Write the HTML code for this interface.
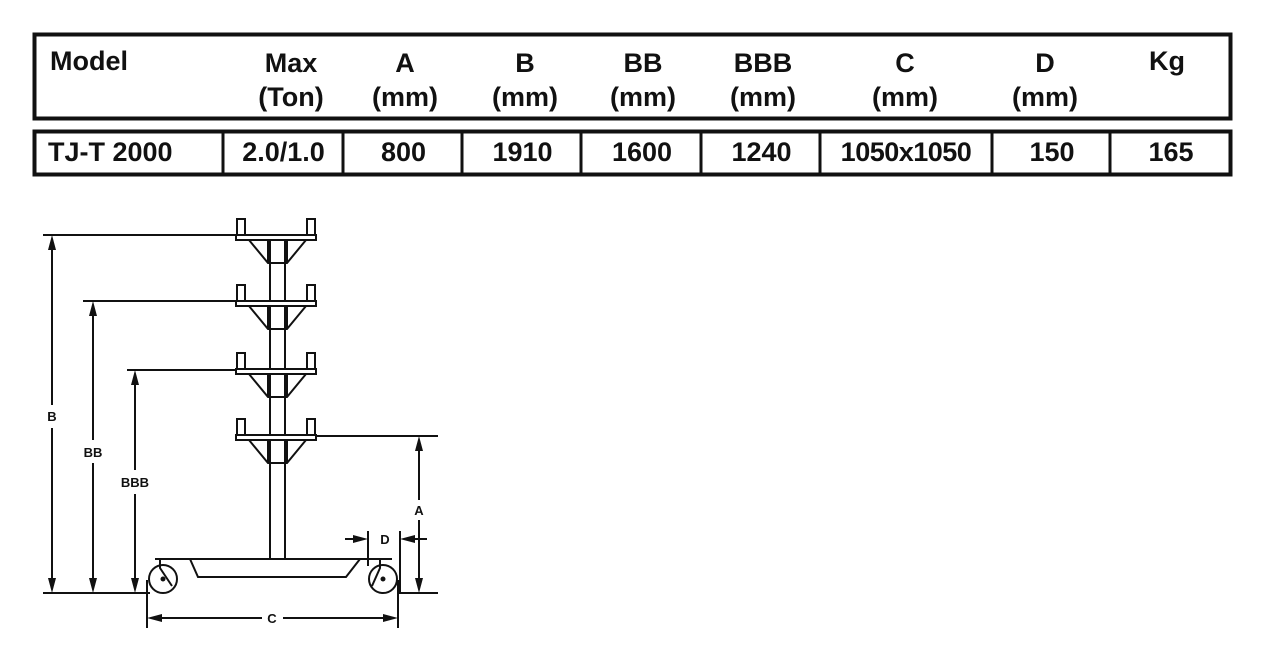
<!DOCTYPE html>
<html><head><style>
body{margin:0;width:1268px;height:664px;background:#fff;overflow:hidden;font-family:"Liberation Sans",sans-serif}
.t{position:absolute;font-weight:bold;color:#111;font-size:27px;text-align:center}
</style></head><body>
<svg width="1268" height="664" style="position:absolute;left:0;top:0">
<g fill="none" stroke="#111">
<rect x="34.5" y="34.5" width="1196" height="84" stroke-width="4"/>
<rect x="34.5" y="131.5" width="1196" height="43" stroke-width="4"/>
<g stroke-width="3">
<line x1="223" y1="132" x2="223" y2="174"/><line x1="343" y1="132" x2="343" y2="174"/>
<line x1="462" y1="132" x2="462" y2="174"/><line x1="581" y1="132" x2="581" y2="174"/>
<line x1="701" y1="132" x2="701" y2="174"/><line x1="820" y1="132" x2="820" y2="174"/>
<line x1="992" y1="132" x2="992" y2="174"/><line x1="1110" y1="132" x2="1110" y2="174"/>
</g>
<g stroke-width="2">
<line x1="270" y1="240" x2="270" y2="559"/><line x1="285" y1="240" x2="285" y2="559"/>
</g>
</g>
<g fill="#fff" stroke="#111" stroke-width="2">
<g id="p">
<rect x="236" y="235" width="80" height="5"/>
<rect x="237" y="219" width="8" height="16"/><rect x="307" y="219" width="8" height="16"/>
<polyline points="249,240 268,263 287,263 306,240" fill="none"/>
<line x1="268" y1="263" x2="268" y2="240"/><line x1="287" y1="263" x2="287" y2="240"/>
</g>
<use href="#p" transform="translate(0,66)"/>
<use href="#p" transform="translate(0,134)"/>
<use href="#p" transform="translate(0,200)"/>
<polyline points="155,559 190,559 198,577 346,577 360,559 392,559" fill="none"/>
<line x1="190" y1="559" x2="360" y2="559"/>
<circle cx="163" cy="579" r="14"/><circle cx="383" cy="579" r="14"/>
<circle cx="163" cy="579" r="1.5" fill="#111"/><circle cx="383" cy="579" r="1.5" fill="#111"/>
<polyline points="160,559 160,568 172,586" fill="none"/><polyline points="380,559 380,568 372,586" fill="none"/>
</g>
<g stroke="#111" stroke-width="2" fill="none">
<line x1="43" y1="235" x2="236" y2="235"/>
<line x1="83" y1="301" x2="236" y2="301"/>
<line x1="127" y1="370" x2="236" y2="370"/>
<line x1="316" y1="436" x2="438" y2="436"/>
<line x1="43" y1="593" x2="150" y2="593"/><line x1="397" y1="593" x2="438" y2="593"/>
<line x1="52" y1="245" x2="52" y2="405"/><line x1="52" y1="428" x2="52" y2="583"/>
<line x1="93" y1="311" x2="93" y2="440"/><line x1="93" y1="463" x2="93" y2="583"/>
<line x1="135" y1="380" x2="135" y2="470"/><line x1="135" y1="494" x2="135" y2="583"/>
<line x1="419" y1="446" x2="419" y2="500"/><line x1="419" y1="520" x2="419" y2="583"/>
<line x1="368" y1="531" x2="368" y2="566"/><line x1="400" y1="531" x2="400" y2="593"/>
<line x1="345" y1="539" x2="360" y2="539"/><line x1="408" y1="539" x2="427" y2="539"/>
<line x1="147" y1="580" x2="147" y2="628"/><line x1="398" y1="580" x2="398" y2="628"/>
<line x1="157" y1="618" x2="262" y2="618"/><line x1="283" y1="618" x2="388" y2="618"/>
</g>
<g fill="#111">
<polygon points="52,235 48,250 56,250"/><polygon points="52,593 48,578 56,578"/>
<polygon points="93,301 89,316 97,316"/><polygon points="93,593 89,578 97,578"/>
<polygon points="135,370 131,385 139,385"/><polygon points="135,593 131,578 139,578"/>
<polygon points="419,436 415,451 423,451"/><polygon points="419,593 415,578 423,578"/>
<polygon points="368,539 353,535 353,543"/><polygon points="400,539 415,535 415,543"/>
<polygon points="147,618 162,614 162,622"/><polygon points="398,618 383,614 383,622"/>
</g>
<g font-family="Liberation Sans" font-weight="bold" font-size="13" fill="#111" text-anchor="middle">
<text x="52" y="421">B</text><text x="93" y="457">BB</text><text x="135" y="487">BBB</text>
<text x="419" y="515">A</text><text x="385" y="544">D</text><text x="272" y="623">C</text>
</g>
</svg>
<div class="t" style="left:50px;top:46px;text-align:left">Model</div>
<div class="t" style="left:236px;top:46px;width:110px;line-height:34px">Max<br>(Ton)</div>
<div class="t" style="left:350px;top:46px;width:110px;line-height:34px">A<br>(mm)</div>
<div class="t" style="left:470px;top:46px;width:110px;line-height:34px">B<br>(mm)</div>
<div class="t" style="left:588px;top:46px;width:110px;line-height:34px">BB<br>(mm)</div>
<div class="t" style="left:708px;top:46px;width:110px;line-height:34px">BBB<br>(mm)</div>
<div class="t" style="left:850px;top:46px;width:110px;line-height:34px">C<br>(mm)</div>
<div class="t" style="left:990px;top:46px;width:110px;line-height:34px">D<br>(mm)</div>
<div class="t" style="left:1112px;top:46px;width:110px">Kg</div>
<div class="t" style="left:48px;top:137px;text-align:left">TJ-T 2000</div>
<div class="t" style="left:226px;top:137px;width:115px">2.0/1.0</div>
<div class="t" style="left:345px;top:137px;width:117px">800</div>
<div class="t" style="left:464px;top:137px;width:117px">1910</div>
<div class="t" style="left:583px;top:137px;width:118px">1600</div>
<div class="t" style="left:703px;top:137px;width:117px">1240</div>
<div class="t" style="left:820px;top:137px;width:172px;letter-spacing:-0.5px">1050x1050</div>
<div class="t" style="left:994px;top:137px;width:116px">150</div>
<div class="t" style="left:1112px;top:137px;width:118px">165</div>
</body></html>
